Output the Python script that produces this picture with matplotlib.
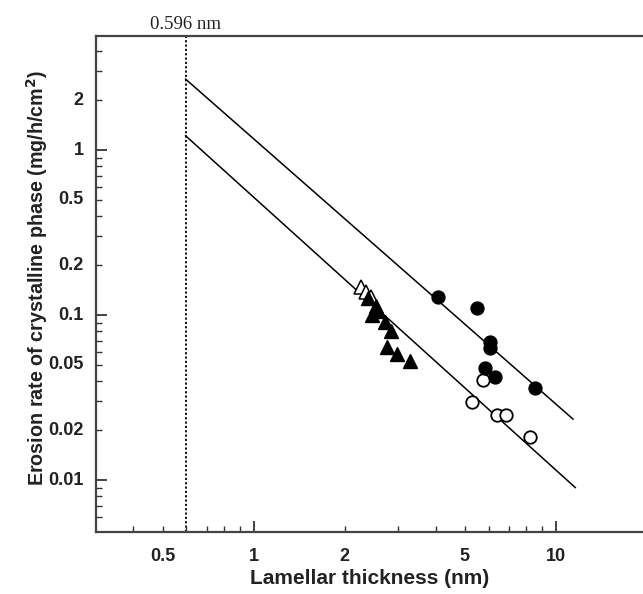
import numpy as np
import matplotlib.pyplot as plt
from matplotlib.ticker import FixedLocator, NullFormatter

# data (lamellar thickness nm, erosion rate mg/h/cm2)
tri_open_x = [2.27, 2.35, 2.44]
tri_open_y = [0.148, 0.138, 0.129]

tri_fill_x = [2.39, 2.54, 2.46, 2.58, 2.72, 2.85, 2.76, 2.98, 3.29]
tri_fill_y = [0.127, 0.113, 0.100, 0.106, 0.091, 0.080, 0.064, 0.058, 0.053]

circ_fill_x = [4.07, 5.48, 6.06, 6.06, 5.83, 6.29, 8.53]
circ_fill_y = [0.128, 0.110, 0.0686, 0.063, 0.0477, 0.042, 0.036]

circ_open_x = [5.74, 5.28, 6.39, 6.84, 8.22]
circ_open_y = [0.0404, 0.0297, 0.0248, 0.0248, 0.0182]

# fitted lines, start at the cutoff
cutoff = 0.596
upper_x = [cutoff, 11.4]
upper_y = [2.69, 0.0234]
lower_x = [cutoff, 11.6]
lower_y = [1.22, 0.0090]

x_labels = [0.5, 1, 2, 5, 10]
y_labels = [0.01, 0.02, 0.05, 0.1, 0.2, 0.5, 1, 2]

plt.rcParams['font.family'] = ['Liberation Sans', 'DejaVu Sans']

fig = plt.figure(figsize=(6.43, 5.94), dpi=100)
ax = fig.add_axes([95.5 / 643, 1 - 532 / 594, (700 - 95.5) / 643, (532 - 36) / 594])
ax.set_xscale('log')
ax.set_yscale('log')
ax.set_xlim(0.3, 30)
ax.set_ylim(0.00484, 4.91)

ax.plot(upper_x, upper_y, color='black', lw=1.1, zorder=2)
ax.plot(lower_x, lower_y, color='black', lw=1.1, zorder=2)
ax.axvline(cutoff, color='black', lw=1.3, ls=(0, (1.2, 1.2)), zorder=1)

ax.plot(tri_open_x, tri_open_y, '^', ms=9.5, mfc='white', mec='black', mew=1.1, zorder=3)
ax.plot(tri_fill_x, tri_fill_y, '^', ms=10, mfc='black', mec='black', zorder=4)
ax.plot(circ_open_x, circ_open_y, 'o', ms=9, mfc='white', mec='black', mew=1.3, zorder=3)
ax.plot(circ_fill_x, circ_fill_y, 'o', ms=9.3, mfc='black', mec='black', zorder=4)

ax.text(cutoff, 5.45, '0.596 nm', family='Liberation Serif', fontsize=13.5,
        ha='center', va='baseline', color='#222222')

# ticks
ax.xaxis.set_major_locator(FixedLocator([1, 10]))
ax.xaxis.set_minor_locator(FixedLocator([0.4, 0.5, 0.6, 0.7, 0.8, 0.9, 2, 3, 4, 5, 6, 7, 8, 9]))
ax.xaxis.set_major_formatter(NullFormatter())
ax.xaxis.set_minor_formatter(NullFormatter())
ax.yaxis.set_major_locator(FixedLocator([0.01, 0.1, 1]))
ax.yaxis.set_minor_locator(FixedLocator([0.006, 0.007, 0.008, 0.009, 0.02, 0.03, 0.04, 0.05,
                                         0.06, 0.07, 0.08, 0.09, 0.2, 0.3, 0.4, 0.5, 0.6,
                                         0.7, 0.8, 0.9, 2, 3, 4]))
ax.yaxis.set_major_formatter(NullFormatter())
ax.yaxis.set_minor_formatter(NullFormatter())
ax.tick_params(which='major', direction='in', length=8, width=1.3, color='#333333')
ax.tick_params(which='minor', direction='in', length=4, width=1.0, color='#333333')

for v in x_labels:
    ax.text(v, -0.033, f'{v:g}', transform=ax.get_xaxis_transform(), ha='center', va='top',
            fontsize=13, fontweight='bold', color='#222222')
for v in y_labels:
    ax.text(-0.02, v, f'{v:g}', transform=ax.get_yaxis_transform(), ha='right', va='center',
            fontsize=13, fontweight='bold', color='#222222')

for s in ax.spines.values():
    s.set_linewidth(1.6)
    s.set_color('#444444')

fig.text(370 / 643, 1 - 578 / 594, 'Lamellar thickness (nm)', ha='center', va='center',
         fontsize=15, fontweight='bold', color='#222222')
fig.text(37 / 643, 1 - 278 / 594, 'Erosion rate of crystalline phase (mg/h/cm$^\\mathbf{2}$)',
         rotation=90, ha='center', va='center', fontsize=14.2, fontweight='bold', color='#222222')

fig.savefig('out.png', dpi=100)
